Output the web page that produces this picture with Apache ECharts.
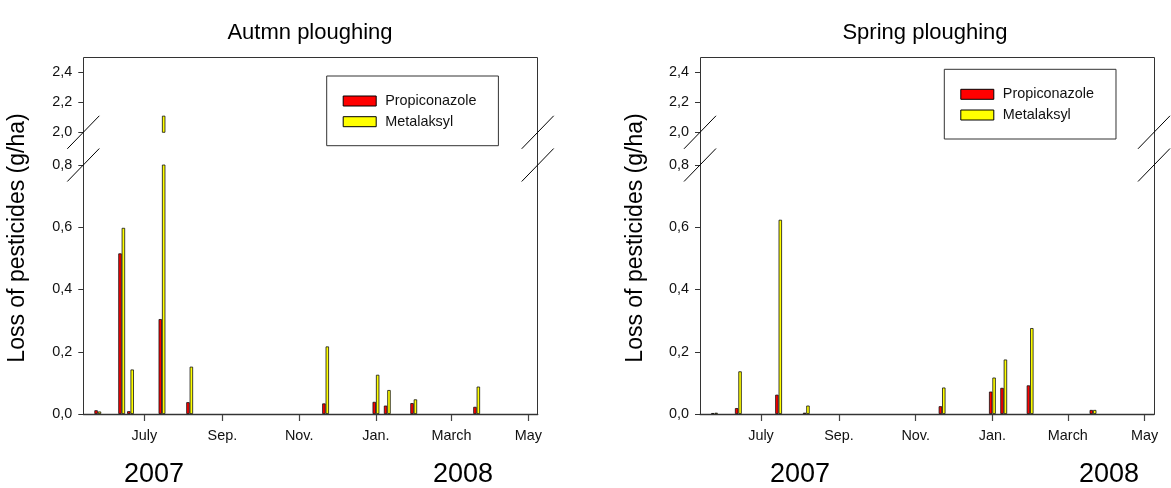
<!DOCTYPE html>
<html>
<head>
<meta charset="utf-8">
<script src="https://cdn.jsdelivr.net/npm/echarts@6/dist/echarts.min.js"></script>
<style>
  html, body { margin: 0; padding: 0; background: #fff; }
  #chart { width: 1171px; height: 488px; }
</style>
</head>
<body>
<div id="chart"></div>
<script>
// Runoff events (sampling dates)
const eventDates = ['2007-05-25', '2007-06-13', '2007-06-20', '2007-07-15', '2007-08-06',
                    '2007-11-22', '2008-01-01', '2008-01-10', '2008-01-31', '2008-03-21'];

// Loss of pesticides (g/ha) - autumn ploughing
const autumnPropiconazole = [0.012, 0.516, 0.009, 0.305, 0.038, 0.034, 0.039, 0.027, 0.035, 0.023];
const autumnMetalaksyl    = [0.008, 0.598, 0.143, 2.11,  0.152, 0.217, 0.126, 0.077, 0.047, 0.088];

// Loss of pesticides (g/ha) - spring ploughing
const springPropiconazole = [0.003, 0.019, null, 0.062, 0.004, 0.025, 0.072, 0.084, 0.092, 0.013];
const springMetalaksyl    = [0.004, 0.137, null, 0.624, 0.027, 0.085, 0.117, 0.175, 0.276, 0.013];

// Axis ticks and labels
const monthTicks  = ['2007-07-01', '2007-09-01', '2007-11-01', '2008-01-01', '2008-03-01', '2008-05-01'];
const monthLabels = ['July', 'Sep.', 'Nov.', 'Jan.', 'March', 'May'];
const upperTicks  = [2.0, 2.2, 2.4];
const lowerTicks  = [0.0, 0.2, 0.4, 0.6, 0.8];
const yearLabels  = ['2007', '2008'];
const panelTitles = ['Autmn ploughing', 'Spring ploughing'];
const seriesNames = ['Propiconazole', 'Metalaksyl'];
const yAxisTitle  = 'Loss of pesticides (g/ha)';

// Time range of the x axis and the two value ranges of the broken y axis
const timeStart = '2007-05-13T12:00:00Z';
const timeEnd   = '2008-05-08T12:00:00Z';
const upperRange = [2.0, 2.5];
const lowerRange = [0.0, 0.8];

const FONT = "'Liberation Sans', Arial, Helvetica, sans-serif";
const utc = s => Date.parse(s.length === 10 ? s + 'T00:00:00Z' : s);
const tickTimes = monthTicks.map(utc);
const commaNum = v => Number(v).toFixed(1).replace('.', ',');

// Layout of the two panels
const panels = [
  { left: 83.3, right: 537.7, data: [autumnPropiconazole, autumnMetalaksyl], title: panelTitles[0],
    titleX: 310, nameX: 18, years: [154, 463], legend: { left: 326.7, top: 76 } },
  { left: 700,  right: 1154,  data: [springPropiconazole, springMetalaksyl], title: panelTitles[1],
    titleX: 925, nameX: 636, years: [800, 1109], legend: { left: 944.3, top: 69.3 } }
];
const TOP = 57, UPPER_BOTTOM = 132.3, LOWER_TOP = 165, BOTTOM = 414;
const colors = ['#ff0000', '#ffff00'];

const grid = [], xAxis = [], yAxis = [], series = [], legend = [], graphic = [];

panels.forEach((p, pi) => {
  const width = p.right - p.left;
  [['upper', TOP, UPPER_BOTTOM, upperRange, upperTicks], ['lower', LOWER_TOP, BOTTOM, lowerRange, lowerTicks]]
    .forEach(([part, top, bottom, range, ticks]) => {
      const idx = grid.length;
      grid.push({ left: p.left, top: top, width: width, height: bottom - top });
      const isLower = part === 'lower';
      // Dates are placed on a linear millisecond scale so that month ticks can be set explicitly
      xAxis.push({
        type: 'value', gridIndex: idx, min: utc(timeStart), max: utc(timeEnd), show: isLower,
        axisLine: { show: true, onZero: false, lineStyle: { color: '#3a3a3a', width: 1.4 } },
        axisTick: { show: true, customValues: tickTimes, length: 7, lineStyle: { color: '#444', width: 1.2 } },
        axisLabel: {
          customValues: tickTimes, margin: 15, fontSize: 14.4, color: '#111', fontFamily: FONT,
          formatter: v => { const i = tickTimes.indexOf(+v); return i >= 0 ? monthLabels[i] : ''; }
        },
        splitLine: { show: false }
      });
      yAxis.push({
        type: 'value', gridIndex: idx, min: range[0], max: range[1],
        axisLine: { show: false },
        axisTick: { show: true, customValues: ticks, length: 5, lineStyle: { color: '#333', width: 1 } },
        axisLabel: { customValues: ticks, margin: 11, fontSize: 14.4, color: '#111', fontFamily: FONT, formatter: commaNum },
        splitLine: { show: false }
      });
      p.data.forEach((vals, si) => {
        series.push({
          type: 'bar', name: seriesNames[si], xAxisIndex: idx, yAxisIndex: idx,
          data: eventDates.map((d, k) => [utc(d), vals[k]]).filter(d => d[1] != null),
          barWidth: 3.4, barGap: '0%', clip: true,
          itemStyle: { color: colors[si], borderColor: '#111', borderWidth: 0.8 },
          emphasis: { disabled: true }, animation: false
        });
      });
    });

  legend.push({
    left: p.legend.left, top: p.legend.top, orient: 'vertical', data: seriesNames,
    icon: 'rect', itemWidth: 33, itemHeight: 10, itemGap: 6.7,
    padding: [18, 22, 17, 16], borderColor: '#333', borderWidth: 1, borderRadius: 0,
    itemStyle: { borderColor: '#000', borderWidth: 1 },
    textStyle: { fontSize: 14.4, color: '#111', fontFamily: FONT, lineHeight: 14, padding: [0, 0, 0, 4] },
    selectedMode: false
  });

  // Plot frame
  graphic.push({
    type: 'rect', silent: true, z: 10,
    shape: { x: Math.round(p.left) + 0.5, y: TOP + 0.5, width: Math.round(width), height: BOTTOM - TOP },
    style: { fill: 'none', stroke: '#333', lineWidth: 1 }
  });
  // Axis break slashes on both sides
  [p.left, p.right].forEach(x => {
    [UPPER_BOTTOM, LOWER_TOP].forEach(y => {
      graphic.push({
        type: 'line', silent: true, z: 11,
        shape: { x1: x - 16, y1: y + 16.5, x2: x + 16, y2: y - 16.5 },
        style: { stroke: '#000', lineWidth: 1 }
      });
    });
  });
  // Panel title
  graphic.push({
    type: 'text', silent: true, x: p.titleX, y: 33,
    style: { text: p.title, fontSize: 22, fontFamily: FONT, fill: '#000', align: 'center', verticalAlign: 'middle' }
  });
  // Y axis title
  graphic.push({
    type: 'text', silent: true, x: p.nameX, y: 238, rotation: Math.PI / 2,
    style: { text: yAxisTitle, fontSize: 23, fontFamily: FONT, fill: '#000', align: 'center', verticalAlign: 'middle' }
  });
  // Year labels
  yearLabels.forEach((yr, k) => {
    graphic.push({
      type: 'text', silent: true, x: p.years[k], y: 475,
      style: { text: yr, fontSize: 27, fontFamily: FONT, fill: '#000', align: 'center', verticalAlign: 'middle' }
    });
  });
});

const chart = echarts.init(document.getElementById('chart'), null, { renderer: 'canvas' });
chart.setOption({
  animation: false,
  backgroundColor: '#fff',
  textStyle: { fontFamily: FONT },
  grid, xAxis, yAxis, series, legend, graphic
});
</script>
</body>
</html>
